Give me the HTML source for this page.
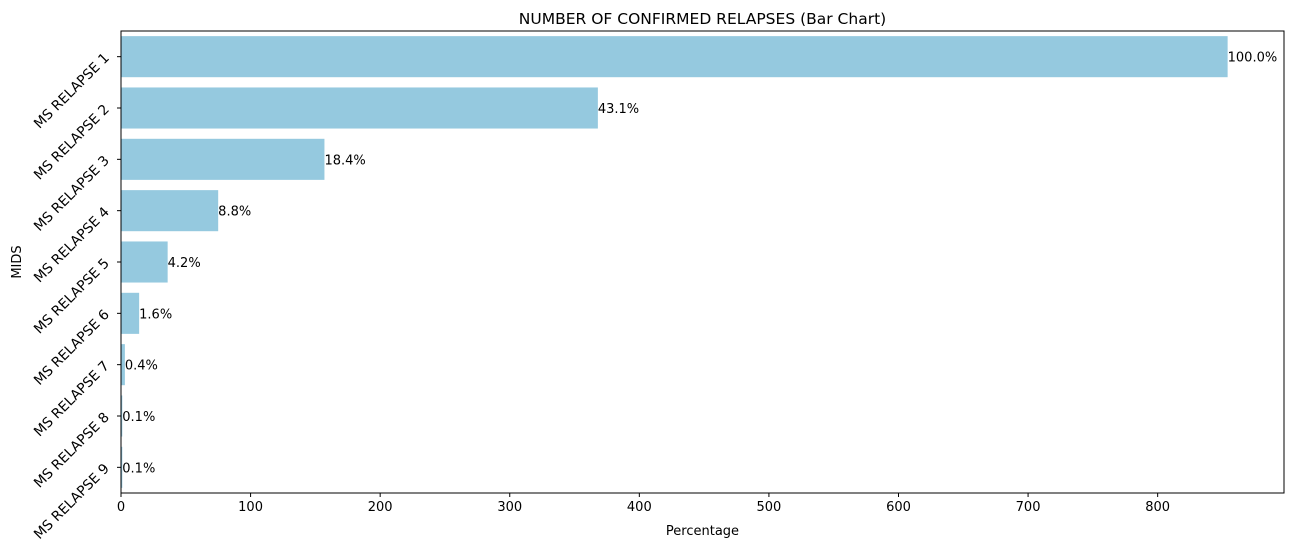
<!DOCTYPE html>
<html><head><meta charset="utf-8"><style>
body{margin:0;background:#fff;font-family:"Liberation Sans","DejaVu Sans",sans-serif;}
svg text{font-family:"DejaVu Sans","Liberation Sans",sans-serif;}
</style></head><body>
<svg id="chart" width="1292" height="553" xmlns="http://www.w3.org/2000/svg"></svg>
<script>
const categories=["MS RELAPSE 1","MS RELAPSE 2","MS RELAPSE 3","MS RELAPSE 4","MS RELAPSE 5","MS RELAPSE 6","MS RELAPSE 7","MS RELAPSE 8","MS RELAPSE 9"];
const values=[854,368,157,75,36,14,3,1,1];
const valueLabels=["100.0%","43.1%","18.4%","8.8%","4.2%","1.6%","0.4%","0.1%","0.1%"];
const xTicks=[0,100,200,300,400,500,600,700,800];
const L=121,R=1284,T=31,B=493,XMAX=897.5;
const svg=document.getElementById('chart');
const NS="http://www.w3.org/2000/svg";
function x(v){return L+v/XMAX*(R-L);}
const band=(B-T)/categories.length;
function yc(i){return T+band*(i+0.5);}
function mk(tag,attrs,parent){const e=document.createElementNS(NS,tag);for(const k in attrs)e.setAttribute(k,attrs[k]);(parent||svg).appendChild(e);return e;}
categories.forEach((c,i)=>{
 const r=mk('rect',{x:x(0),y:yc(i)-band*0.4,width:x(values[i])-x(0),height:band*0.8,fill:'#95c9df'});
 
 
 const t=mk('text',{x:x(values[i]),y:yc(i)+5,'font-size':13,fill:'#000'});
 t.textContent=valueLabels[i];
 
 
 mk('line',{x1:L-4,x2:L,y1:yc(i),y2:yc(i),stroke:'#000'});
 const yl=mk('text',{x:0,y:0,'font-size':13.8,'text-anchor':'end',transform:`translate(${L-11},${yc(i)+2}) rotate(-45)`});
 yl.textContent=c;
 
 
});
xTicks.forEach(v=>{
 mk('line',{x1:x(v),x2:x(v),y1:B,y2:B+4,stroke:'#000'});
 const t=mk('text',{x:x(v),y:B+18,'font-size':13,'text-anchor':'middle'});
 t.textContent=v;
 
 
});
const f=mk('rect',{x:L,y:T,width:R-L,height:B-T,fill:'none',stroke:'#000','stroke-width':1});


const ti=mk('text',{x:(L+R)/2,y:24,'font-size':15.5,'text-anchor':'middle'});ti.textContent="NUMBER OF CONFIRMED RELAPSES (Bar Chart)";


const xt=mk('text',{x:(L+R)/2,y:535,'font-size':13,'text-anchor':'middle'});xt.textContent="Percentage";


const yt=mk('text',{x:0,y:0,'font-size':13,'text-anchor':'middle',transform:`translate(21,${(T+B)/2}) rotate(-90)`});yt.textContent="MIDS";


</script>
</body></html>
